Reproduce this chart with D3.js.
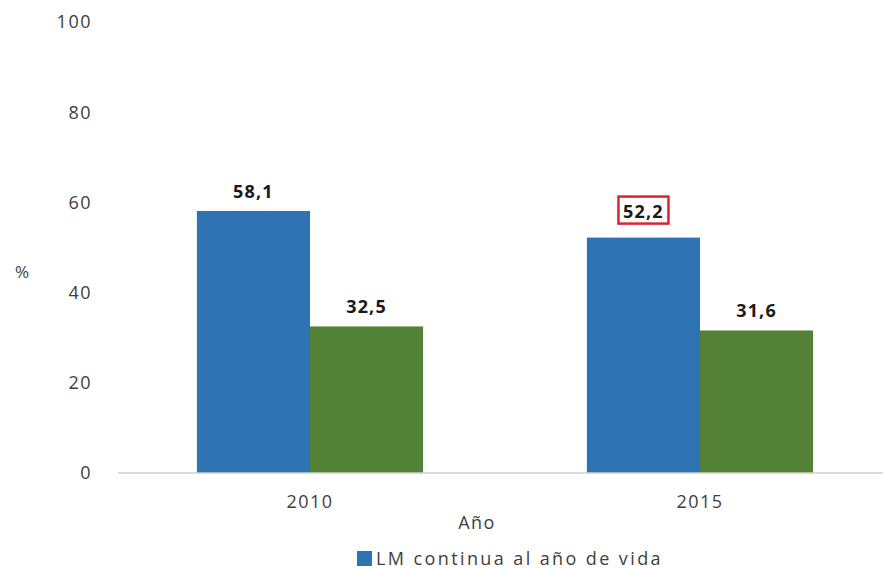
<!DOCTYPE html>
<html>
<head>
<meta charset="utf-8">
<script src="https://cdn.jsdelivr.net/npm/d3@7"></script>
<style>
  body { margin: 0; background: #fff; }
  text { font-family: "Open Sans", sans-serif; }
</style>
</head>
<body>
<script>
// data
var years = ["2010", "2015"];
var seriesNames = ["LM continua al año de vida", "LM continua a los 2 años"];
var blueValues = [58.1, 52.2];
var greenValues = [32.5, 31.6];
var yTicks = [0, 20, 40, 60, 80, 100];
var colors = ["#2e74b5", "#538135"];

var width = 883, height = 569;

var svg = d3.select("body").append("svg")
  .attr("width", width)
  .attr("height", height);

// scales
var x = d3.scaleBand()
  .domain(years)
  .range([115, 895])
  .paddingInner(0.42)
  .paddingOuter(0.21);

var y = d3.scaleLinear()
  .domain([0, 100])
  .range([473, 22]);

var sub = d3.scaleBand()
  .domain([0, 1])
  .range([0, x.bandwidth()]);

// y tick labels (no axis line)
svg.append("g").selectAll("text")
  .data(yTicks)
  .enter().append("text")
  .attr("x", 92)
  .attr("y", function (d) { return y(d); })
  .attr("dy", "0.35em")
  .attr("text-anchor", "end")
  .style("font-size", "18px")
  .style("letter-spacing", "1.5px")
  .style("fill", "#404040")
  .text(function (d) { return d; });

// bars
var rows = years.map(function (yr, i) {
  return { year: yr, vals: [blueValues[i], greenValues[i]] };
});

var groups = svg.selectAll(".grp")
  .data(rows)
  .enter().append("g")
  .attr("class", "grp")
  .attr("transform", function (d) { return "translate(" + x(d.year) + ",0)"; });

groups.selectAll("rect")
  .data(function (d) { return d.vals.map(function (v, k) { return { v: v, k: k, year: d.year }; }); })
  .enter().append("rect")
  .attr("x", function (d) { return sub(d.k); })
  .attr("y", function (d) { return y(d.v); })
  .attr("width", sub.bandwidth())
  .attr("height", function (d) { return y(0) - y(d.v); })
  .style("fill", function (d) { return colors[d.k]; });

// value labels (the boxed one sits higher)
var fmt = function (v) { return d3.format(".1f")(v).replace(".", ","); };
var boxed = function (d) { return d.year === "2015" && d.k === 0; };

groups.selectAll(".lbl")
  .data(function (d) { return d.vals.map(function (v, k) { return { v: v, k: k, year: d.year }; }); })
  .enter().append("text")
  .attr("class", "lbl")
  .attr("x", function (d) { return sub(d.k) + sub.bandwidth() / 2; })
  .attr("y", function (d) { return y(d.v) - (boxed(d) ? 20 : 13); })
  .attr("text-anchor", "middle")
  .style("font-size", "18px")
  .style("font-weight", "bold")
  .style("letter-spacing", "1.2px")
  .style("fill", "#1a1a1a")
  .text(function (d) { return fmt(d.v); });

// red box round the 2015 blue label
svg.append("rect")
  .attr("x", x("2015") + sub(0) + sub.bandwidth() / 2 - 25)
  .attr("y", y(blueValues[1]) - 41)
  .attr("width", 50)
  .attr("height", 27)
  .style("fill", "none")
  .style("stroke", "#d9262e")
  .style("stroke-width", 2.5);

// baseline
svg.append("line")
  .attr("x1", 118).attr("x2", 883)
  .attr("y1", y(0)).attr("y2", y(0))
  .style("stroke", "#d0d0d0")
  .style("stroke-width", 1.5);

// x tick labels
svg.append("g").selectAll("text")
  .data(years)
  .enter().append("text")
  .attr("x", function (d) { return x(d) + x.bandwidth() / 2; })
  .attr("y", 508)
  .attr("text-anchor", "middle")
  .style("font-size", "18px")
  .style("letter-spacing", "1.5px")
  .style("fill", "#404040")
  .text(function (d) { return d; });

// axis titles
svg.append("text")
  .attr("x", 477).attr("y", 529)
  .attr("text-anchor", "middle")
  .style("font-size", "18px")
  .style("letter-spacing", "1.5px")
  .style("fill", "#404040")
  .text("Año");

svg.append("text")
  .attr("x", 22).attr("y", 278)
  .attr("text-anchor", "middle")
  .style("font-size", "17px")
  .style("fill", "#404040")
  .text("%");

// legend (only first entry visible in frame)
var legend = svg.append("g").attr("transform", "translate(357,551)");
legend.append("rect")
  .attr("width", 15).attr("height", 15)
  .style("fill", colors[0]);
legend.append("text")
  .attr("x", 19).attr("y", 14)
  .style("font-size", "18px")
  .style("letter-spacing", "2.4px")
  .style("fill", "#404040")
  .text(seriesNames[0]);
</script>
</body>
</html>
